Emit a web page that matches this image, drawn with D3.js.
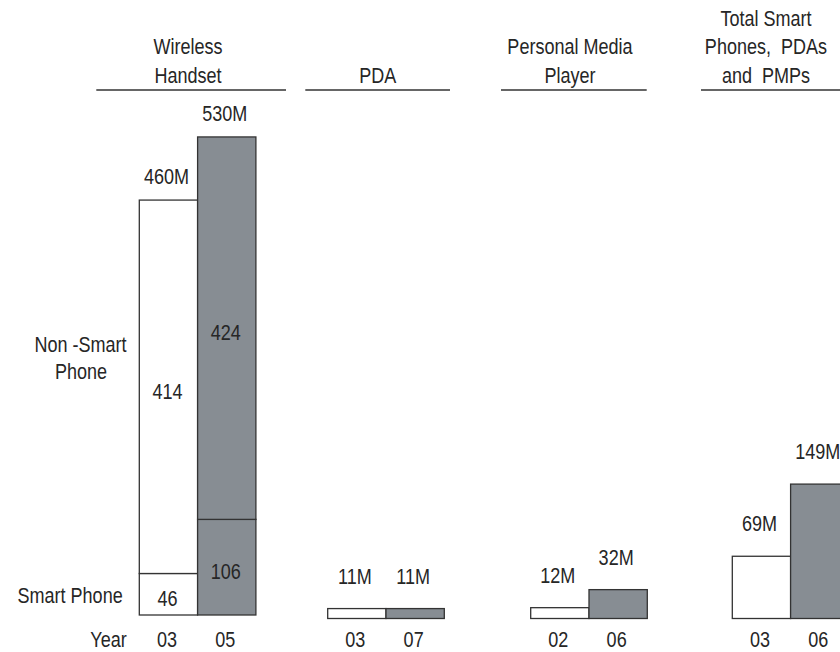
<!DOCTYPE html>
<html>
<head>
<meta charset="utf-8">
<script src="https://cdn.jsdelivr.net/npm/d3@7"></script>
<style>
  html, body { margin: 0; padding: 0; background: #fff; }
  svg text { font-family: "Liberation Sans", Arial, sans-serif; fill: #262626; white-space: pre; }
</style>
</head>
<body>
<svg id="chart" width="840" height="652"></svg>
<script>
// ---- data ----
const panelTitles = [
  ["Wireless", "Handset"],
  ["PDA"],
  ["Personal Media", "Player"],
  ["Total Smart", "Phones,  PDAs", "and  PMPs"]
];
const panelYears = [["03", "05"], ["03", "07"], ["02", "06"], ["03", "06"]];
const panelTotals = [[460, 530], [11, 11], [12, 32], [69, 149]];
const smartPhone = [46, 106];      // Wireless handset, bottom segment
const nonSmartPhone = [414, 424];  // Wireless handset, top segment
const seriesFill = ["#ffffff", "#878d93"];

// ---- layout ----
const svg = d3.select("#chart");
const fontSize = 22;
const narrow = 0.82;   // horizontal condensing to mimic a narrow face
const barLeft = [139.3, 327.7, 530.7, 732.3];
const barW = 58.3;
const baselines = [615, 618.5, 618.5, 618.5];
const ruleX = [[96.3, 286], [305.3, 450], [501, 646.7], [701, 860]];
const titleCx = [188, 377.7, 570, 766];
const labelGap = [16, 25, 25, 25];
const pxPerUnit = 0.902;
const stroke = "#333333";
const yearBaseline = 647;

function label(g, x, y, txt, anchor) {
  return g.append("text")
    .attr("transform", `translate(${x},${y}) scale(${narrow},1)`)
    .attr("text-anchor", anchor || "middle")
    .style("font-size", fontSize + "px")
    .text(txt);
}

panelTitles.forEach((title, i) => {
  const base = baselines[i];
  const y = d3.scaleLinear().domain([0, 530]).range([base, base - 530 * pxPerUnit]);
  const x = d3.scaleBand().domain(panelYears[i]).range([barLeft[i], barLeft[i] + 2 * barW]).padding(0);
  const g = svg.append("g");

  // header
  const t = g.append("text")
    .attr("transform", `translate(${titleCx[i]},0) scale(${narrow},1)`)
    .attr("text-anchor", "middle").style("font-size", fontSize + "px");
  const n = title.length;
  title.forEach((line, k) => {
    t.append("tspan").attr("x", 0).attr("y", 83 - (n - 1 - k) * 28.7).text(line);
  });
  g.append("line").attr("x1", ruleX[i][0]).attr("x2", ruleX[i][1]).attr("y1", 90).attr("y2", 90)
    .attr("stroke", stroke).attr("stroke-width", 1.5);

  // bars
  if (i === 0) {
    panelYears[i].forEach((yr, j) => {
      const segs = [[0, smartPhone[j]], [smartPhone[j], smartPhone[j] + nonSmartPhone[j]]];
      const vals = [smartPhone[j], nonSmartPhone[j]];
      segs.forEach((s, k) => {
        g.append("rect").attr("x", x(yr)).attr("width", x.bandwidth())
          .attr("y", y(s[1])).attr("height", y(s[0]) - y(s[1]))
          .attr("fill", seriesFill[j]).attr("stroke", stroke).attr("stroke-width", 1.3);
        label(g, x(yr) + x.bandwidth() / 2 - 1, (y(s[0]) + y(s[1])) / 2 + 12, vals[k]);
      });
    });
  } else {
    panelYears[i].forEach((yr, j) => {
      g.append("rect").attr("x", x(yr)).attr("width", x.bandwidth())
        .attr("y", y(panelTotals[i][j])).attr("height", y(0) - y(panelTotals[i][j]))
        .attr("fill", seriesFill[j]).attr("stroke", stroke).attr("stroke-width", 1.3);
    });
  }
  // total labels
  panelYears[i].forEach((yr, j) => {
    label(g, x(yr) + x.bandwidth() / 2 - 2, y(panelTotals[i][j]) - labelGap[i], panelTotals[i][j] + "M");
  });

  // year axis
  const ax = g.append("g").attr("transform", `translate(-1.5,${yearBaseline - 0.71 * fontSize})`)
    .call(d3.axisBottom(x).tickSize(0).tickPadding(0));
  ax.select(".domain").remove();
  ax.attr("font-family", null).attr("font-size", null);
  ax.selectAll("text").style("font-size", fontSize + "px").attr("fill", "#262626")
    .attr("transform", `scale(${narrow},1)`);
});

// side labels
const side = svg.append("g");
label(side, 80.5, 351.7, "Non -Smart");
label(side, 81, 379, "Phone");
label(side, 122.7, 603.3, "Smart Phone", "end");
label(side, 126.7, yearBaseline, "Year", "end");
</script>
</body>
</html>
